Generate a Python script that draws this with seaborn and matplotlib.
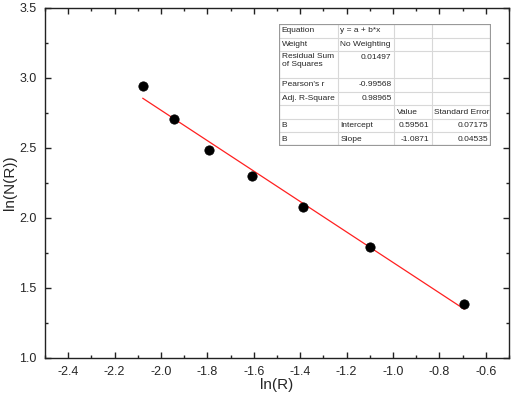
import matplotlib
matplotlib.use("Agg")
import matplotlib.pyplot as plt
import seaborn as sns
import pandas as pd
from matplotlib.ticker import MultipleLocator

# data: box-counting, ln(R) vs ln(N(R))
ln_r = [-2.079, -1.946, -1.792, -1.609, -1.386, -1.099, -0.693]
ln_n = [2.944, 2.708, 2.485, 2.303, 2.079, 1.792, 1.386]

# linear fit results (from the table)
intercept = 0.59561
slope = -1.0871

table_rows = [
    ["Equation", "y = a + b*x", "", ""],
    ["Weight", "No Weighting", "", ""],
    ["Residual Sum\nof Squares", "0.01497", "", ""],
    ["Pearson's r", "-0.99568", "", ""],
    ["Adj. R-Square", "0.98965", "", ""],
    ["", "", "Value", "Standard Error"],
    ["B", "Intercept", "0.59561", "0.07175"],
    ["B", "Slope", "-1.0871", "0.04535"],
]

sns.set_style("ticks")
plt.rcParams['font.family'] = ['Liberation Sans', 'DejaVu Sans']
plt.rcParams['axes.unicode_minus'] = False

df = pd.DataFrame({'ln_r': ln_r, 'ln_n': ln_n})
fit = pd.DataFrame({'x': [min(ln_r), max(ln_r)]})
fit['y'] = intercept + slope * fit['x']

W, H = 512, 394
fig = plt.figure(figsize=(W / 100, H / 100), dpi=100)
ax = fig.add_axes([45 / W, 1 - 358 / H, (509 - 45) / W, (358 - 8) / H])

sns.lineplot(data=fit, x='x', y='y', ax=ax, color='#ff2020', linewidth=0.9)
sns.scatterplot(data=df, x='ln_r', y='ln_n', ax=ax, color='black', s=45,
                edgecolor='black', zorder=3)

ax.set_xlim(-2.5, -0.5)
ax.set_ylim(1.0, 3.5)
ax.set_xticks([-2.4, -2.2, -2.0, -1.8, -1.6, -1.4, -1.2, -1.0, -0.8, -0.6])
ax.xaxis.set_minor_locator(MultipleLocator(0.1))
ax.yaxis.set_major_locator(MultipleLocator(0.5))
ax.yaxis.set_minor_locator(MultipleLocator(0.25))
ax.tick_params(which='both', direction='in', top=True, right=True,
               labelsize=9, width=1, color='#222222')
ax.tick_params(which='major', length=4.5, pad=6)
ax.tick_params(which='minor', length=2.2)
for sp in ax.spines.values():
    sp.set_linewidth(1.0)
    sp.set_color('#222222')
ax.set_xlabel("ln(R)", fontsize=11, labelpad=0)
ax.set_ylabel("ln(N(R))", fontsize=11, labelpad=2)

# fit-results table drawn in its own axes (pixel units)
tl, tt, tr, tb = 279, 24, 491, 146
tab = fig.add_axes([tl / W, 1 - tb / H, (tr - tl) / W, (tb - tt) / H])
tab.set_xlim(0, tr - tl)
tab.set_ylim(tb - tt, 0)
tab.axis('off')
tab.add_patch(plt.Rectangle((0, 0), tr - tl, tb - tt, facecolor='white',
                            edgecolor='none', zorder=1))
tab.add_patch(plt.Rectangle((0, 0), tr - tl, tb - tt, facecolor='none',
                            edgecolor='#999999', linewidth=1.6, zorder=5))
cols = [0, 59, 115, 153, 212]
units = [1, 1, 2, 1, 1, 1, 1, 1]
uh = (tb - tt) / sum(units)
fs = 6.0
y0 = 0
for r, (row, u) in enumerate(zip(table_rows, units)):
    if r > 0:
        tab.plot([0, cols[-1]], [y0, y0], color='#d8d8d8', lw=0.8, zorder=2)
    yc = y0 + uh / 2
    for c, txt in enumerate(row):
        if not txt:
            continue
        numeric = txt[0] in "-0123456789"
        if numeric:
            tab.text(cols[c + 1] - 2.5, yc, txt, ha='right', va='center',
                     fontsize=fs, zorder=4)
        elif "\n" in txt:
            tab.text(cols[c] + 3, y0 + 1.5, txt, ha='left', va='top',
                     fontsize=fs, linespacing=1.3, zorder=4)
        else:
            tab.text(cols[c] + 2.5, yc, txt, ha='left', va='center',
                     fontsize=fs, zorder=4)
    y0 += u * uh
for cx in cols[1:-1]:
    tab.plot([cx, cx], [0, tb - tt], color='#d8d8d8', lw=0.8, zorder=2)

fig.savefig("out.png", dpi=100)
